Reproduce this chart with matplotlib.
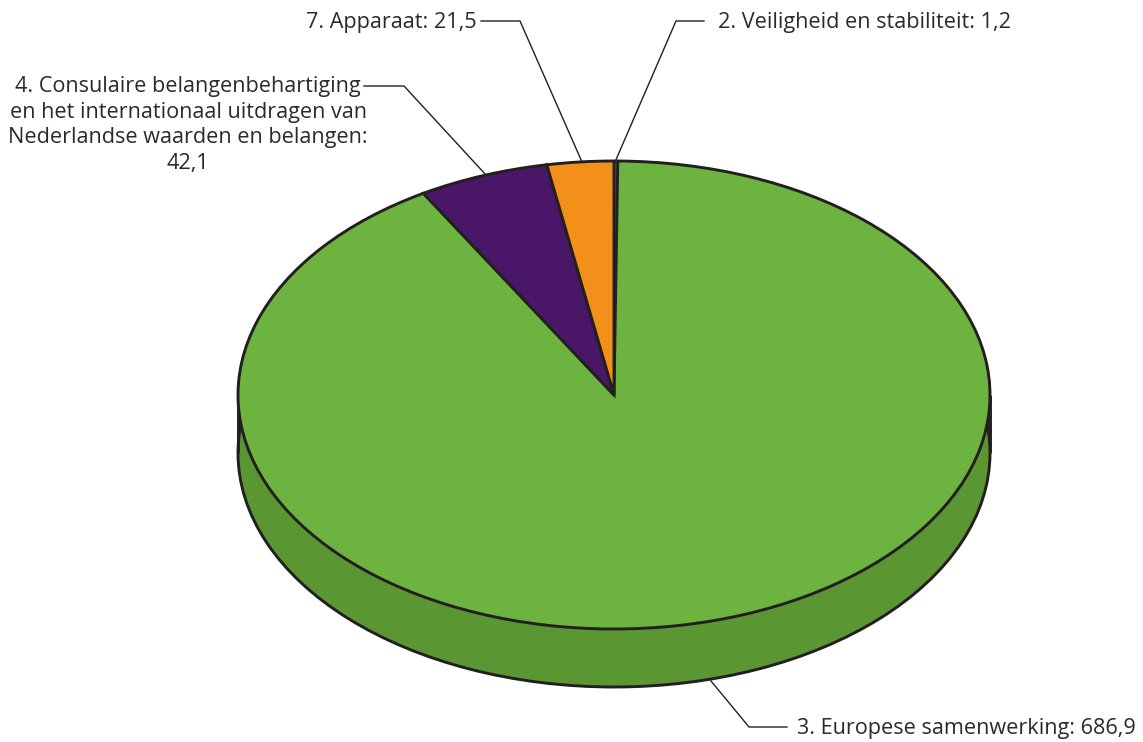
# Importations

import matplotlib
matplotlib.use("Agg")
import matplotlib.pyplot as plt


# Data

labels = [
    "2. Veiligheid en stabiliteit: 1,2",
    "3. Europese samenwerking: 686,9",
    "4. Consulaire belangenbehartiging\nen het internationaal uitdragen van\nNederlandse waarden en belangen:\n42,1",
    "7. Apparaat: 21,5",
]
values = [1.2, 686.9, 42.1, 21.5]
colors = ["#1f6f8b", "#6db33f", "#4a1768", "#f39019"]


# Constants

W, H = 1143, 742
cx, cy, rx, ry, depth = 614, 395, 376, 234, 58
edge = "#231f20"
side = "#5a9632"
text_color = "#2b2a29"

plt.rcParams["font.family"] = ["Open Sans", "DejaVu Sans"]

fig = plt.figure(figsize=(W / 100, H / 100), dpi=100, facecolor="white")


# Pie, one data unit = rx horizontally and ry vertically

ax = fig.add_axes([0, 0, 1, 1])
d = depth / ry

ax.pie([1], colors=[side], center=(0, -d), startangle=0, frame=True,
       wedgeprops=dict(edgecolor=side, linewidth=0))
ax.pie([1], colors=["none"], center=(0, -d), startangle=0, frame=True,
       wedgeprops=dict(edgecolor=edge, linewidth=2.1, zorder=1.7))
ax.fill_between([-1, 1], [0, 0], [-d, -d], color=side, linewidth=0, zorder=1.5)
ax.plot([-1, -1], [0, -d], color=edge, linewidth=2.1, zorder=1.6, solid_capstyle="butt")
ax.plot([1, 1], [0, -d], color=edge, linewidth=2.1, zorder=1.6, solid_capstyle="butt")

wedges, _ = ax.pie(values, colors=colors, startangle=90, counterclock=False, frame=True,
                   wedgeprops=dict(edgecolor=edge, linewidth=2.1, zorder=2))
wedges[0].set_linewidth(0.7)

ax.set_aspect("auto")
ax.set_xlim(-cx / rx, (W - cx) / rx)
ax.set_ylim(-(H - cy) / ry, cy / ry)
ax.axis("off")


# Labels and leader lines, in pixels

ov = fig.add_axes([0, 0, 1, 1], facecolor="none")
ov.set_xlim(0, W)
ov.set_ylim(H, 0)
ov.axis("off")

leaders = [
    ([704, 676, 615], [21, 21, 162]),
    ([481, 520, 582], [21, 21, 162]),
    ([364, 404, 486], [86, 86, 175]),
    ([711, 749, 787], [681, 727, 727]),
]
for xs, ys in leaders:
    ov.plot(xs, ys, color=edge, linewidth=1.0)

fs = 15.6
ov.text(718, 28, labels[0], fontsize=fs, color=text_color, ha="left", va="baseline")
ov.text(797, 734, labels[1], fontsize=fs, color=text_color, ha="left", va="baseline")
ov.text(188, 125, labels[2], fontsize=fs, color=text_color, ha="center", va="center", linespacing=1.3)
ov.text(477, 28, labels[3], fontsize=fs, color=text_color, ha="right", va="baseline")

fig.savefig("out.png", dpi=100)
